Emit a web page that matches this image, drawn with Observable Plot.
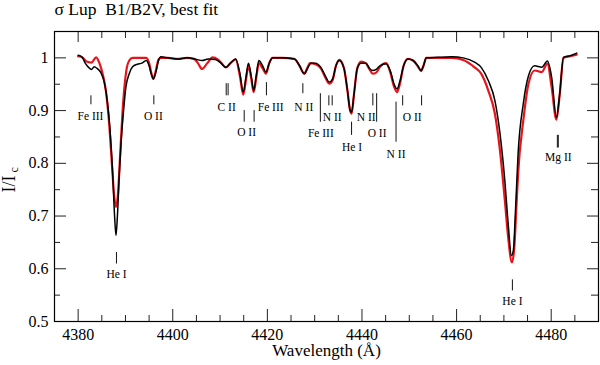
<!DOCTYPE html>
<html><head><meta charset="utf-8">
<script src="https://cdn.jsdelivr.net/npm/d3@7"></script>
<script src="https://cdn.jsdelivr.net/npm/@observablehq/plot@0.6"></script>
<style>html,body{margin:0;padding:0;background:#fff}</style>
</head><body><div id="chart"></div>
<script>
const titleText = "σ Lup\u00a0\u00a0B1/B2V, best fit";
const xLabel = "Wavelength (Å)";

const obsWave = [4380.0,4380.8,4381.5,4382.2,4382.8,4383.4,4384.0,4384.8,4385.6,4386.2,4386.7,4387.3,4387.7,4388.0,4388.3,4388.7,4389.1,4389.6,4390.1,4390.8,4391.5,4392.5,4393.5,4394.4,4395.0,4395.5,4395.9,4396.4,4397.0,4397.5,4399,4401,4403,4405,4406.2,4407.5,4409,4410.2,4411.2,4412.2,4413.3,4414.2,4414.9,4415.5,4416.0,4416.6,4417.1,4417.7,4418.2,4419.0,4419.7,4420.4,4421.1,4423,4425.7,4426.8,4427.8,4428.5,4429.2,4430.2,4431.3,4432.3,4433.1,4433.8,4434.5,4435.2,4436.2,4436.9,4437.5,4437.8,4438.3,4439.0,4439.8,4440.8,4441.6,4442.3,4443.0,4443.8,4445.1,4446.0,4446.8,4447.4,4448.0,4448.8,4449.7,4450.8,4451.8,4452.5,4453.0,4453.6,4456,4459,4461.4,4463.8,4465.2,4466.7,4468.1,4469.1,4470.2,4470.9,4471.6,4472.0,4472.5,4473.0,4474.1,4475.2,4476.5,4478.0,4479.2,4480.1,4481.1,4481.8,4482.6,4484,4485.4];
const obsFlux = [1.005,1.002,0.99,0.982,0.978,0.983,0.98,0.972,0.951,0.915,0.868,0.78,0.70,0.663,0.70,0.78,0.843,0.90,0.945,0.97,0.983,0.988,0.99,0.995,0.985,0.968,0.96,0.972,0.995,1.002,1.0,0.998,1.0,0.997,0.995,0.998,0.997,0.99,0.982,0.99,0.998,0.97,0.935,0.965,0.99,0.965,0.938,0.97,0.995,0.985,0.973,0.99,1.0,1.0,0.998,0.985,0.97,0.98,0.99,0.99,0.982,0.965,0.954,0.96,0.985,0.995,0.98,0.94,0.9,0.897,0.93,0.98,0.99,0.99,0.98,0.976,0.978,0.985,0.989,0.975,0.95,0.941,0.955,0.985,0.998,0.995,0.985,0.976,0.985,1.0,1.001,1.002,1.0,0.992,0.982,0.957,0.919,0.862,0.767,0.686,0.625,0.635,0.72,0.818,0.913,0.966,0.985,0.982,0.994,0.963,0.887,0.932,1.001,1.004,1.009];

const fitWave = [4380.0,4381.0,4381.8,4382.8,4383.8,4384.5,4385.3,4385.9,4386.6,4387.2,4387.6,4388.0,4388.4,4388.9,4389.4,4389.9,4390.3,4390.8,4391.5,4394.4,4395.0,4395.5,4395.9,4396.4,4397.0,4397.5,4399,4401,4403,4404.5,4405.3,4406.2,4407.3,4408.4,4409.5,4410.3,4411.2,4412.2,4413.3,4414.2,4414.9,4415.5,4416.0,4416.6,4417.1,4417.7,4418.2,4419.0,4419.7,4420.4,4421.1,4423,4425.7,4426.8,4427.8,4428.5,4429.0,4430.2,4431.3,4432.3,4433.1,4433.8,4434.5,4435.2,4436.2,4436.9,4437.5,4437.8,4438.3,4439.0,4439.8,4440.8,4441.6,4442.3,4443.0,4443.8,4445.1,4446.0,4446.8,4447.4,4448.0,4448.8,4449.7,4450.8,4451.8,4452.5,4453.0,4453.6,4456,4459,4461.4,4463.8,4465.2,4466.7,4468.1,4469.1,4470.2,4470.9,4471.7,4472.2,4472.6,4473.0,4474.1,4475.2,4476.5,4478.0,4479.2,4480.1,4481.1,4481.8,4482.6,4484,4485.4];
const fitFlux = [1.003,1.0,0.993,0.991,1.001,0.99,0.965,0.935,0.87,0.79,0.74,0.717,0.74,0.82,0.9,0.955,0.982,0.995,1.0,1.0,0.99,0.97,0.96,0.975,0.997,1.0,1.0,0.998,1.0,0.998,0.99,0.979,0.99,1.001,0.997,0.99,0.982,0.99,0.997,0.965,0.93,0.96,0.985,0.96,0.935,0.965,0.99,0.98,0.97,0.99,1.0,1.0,0.998,0.985,0.97,0.982,0.99,0.988,0.98,0.962,0.951,0.958,0.985,0.996,0.98,0.94,0.9,0.894,0.93,0.98,0.993,0.99,0.978,0.97,0.972,0.983,0.99,0.972,0.945,0.935,0.95,0.985,0.998,0.995,0.984,0.975,0.985,1.0,1.0,1.0,0.996,0.982,0.97,0.938,0.894,0.83,0.73,0.66,0.612,0.64,0.71,0.78,0.881,0.951,0.976,0.973,0.989,0.944,0.883,0.93,1.0,1.003,1.006];

const xMajorTicks = [4380,4400,4420,4440,4460,4480];
const xMinorTicks = [4385,4390,4395,4405,4410,4415,4425,4430,4435,4445,4450,4455,4465,4470,4475,4485];
const yMajorTicks = [0.5,0.6,0.7,0.8,0.9,1.0];
const yMinorTicks = [0.55,0.65,0.75,0.85,0.95];

const idText  = ["Fe III","O II","C II","O II","Fe III","N II","Fe III","N II","He I","N II","O II","N II","O II","Mg II","He I","He I"];
const idWave  = [4382.6,4395.9,4411.4,4415.6,4420.7,4427.7,4431.3,4433.7,4437.9,4440.9,4443.2,4447.2,4450.6,4481.5,4388.1,4471.8];
const idLevel = [0.8896,0.8896,0.9066,0.8592,0.9066,0.9066,0.8560,0.8877,0.8307,0.8877,0.8560,0.8180,0.8877,0.8118,0.5903,0.5385];

const markWave   = [4382.7,4396.0,4411.3,4411.7,4415.1,4417.2,4419.8,4427.5,4431.2,4433.0,4433.7,4437.8,4442.3,4443.1,4447.2,4448.6,4452.6,4481.3,4481.5,4388.1,4471.8];
const markTop    = [0.928,0.928,0.951,0.951,0.900,0.900,0.953,0.951,0.932,0.928,0.928,0.878,0.932,0.932,0.916,0.928,0.928,0.853,0.853,0.631,0.579];
const markBottom = [0.911,0.911,0.928,0.928,0.878,0.878,0.928,0.932,0.878,0.909,0.909,0.853,0.909,0.878,0.840,0.909,0.909,0.829,0.829,0.609,0.558];

const obs = obsWave.map((w,i)=>({w, f: obsFlux[i]}));
const fit = fitWave.map((w,i)=>({w, f: fitFlux[i]}));
const ids = idText.map((t,i)=>({t, w: idWave[i], v: idLevel[i]}));
const idMarks = markWave.map((w,i)=>({w, y1: markTop[i], y2: markBottom[i]}));

const W = 600, H = 365, mL = 54, mR = 2, mT = 31, mB = 44;
const fh = H - mT - mB, fw = W - mL - mR;
const serif = "'Liberation Serif', 'Times New Roman', serif";

const chart = Plot.plot({
  width: W, height: H,
  marginLeft: mL, marginRight: mR, marginTop: mT, marginBottom: mB,
  x: {domain: [4375, 4490]},
  y: {domain: [0.5, 1.05]},
  style: {fontFamily: serif, background: "#fff", color: "#000"},
  marks: [
    Plot.line(fit, {x: "w", y: "f", stroke: "#e8141b", strokeWidth: 2.2, curve: "monotone-x"}),
    Plot.line(obs, {x: "w", y: "f", stroke: "#000", strokeWidth: 1.5, curve: "monotone-x"}),
    Plot.ruleX(idMarks, {x: "w", y1: "y1", y2: "y2", stroke: "#111", strokeWidth: 1}),
    Plot.text(ids, {x: "w", y: "v", text: "t", fontSize: 11.5, fontFamily: serif, fill: "#000", lineAnchor: "middle"}),
    Plot.ruleX(xMajorTicks, {insetTop: fh - 12, stroke: "#222"}),
    Plot.ruleX(xMinorTicks, {insetTop: fh - 6, stroke: "#222"}),
    Plot.ruleX(xMajorTicks, {insetBottom: fh - 11, stroke: "#222"}),
    Plot.ruleX(xMinorTicks, {insetBottom: fh - 7, stroke: "#222"}),
    Plot.ruleY(yMajorTicks, {insetRight: fw - 12, stroke: "#222"}),
    Plot.ruleY(yMinorTicks, {insetRight: fw - 6, stroke: "#222"}),
    Plot.ruleY(yMajorTicks, {insetLeft: fw - 11, stroke: "#222"}),
    Plot.ruleY(yMinorTicks, {insetLeft: fw - 7, stroke: "#222"}),
    Plot.axisX({ticks: xMajorTicks, anchor: "bottom", tickSize: 0, tickPadding: 7, fontSize: 16, fontFamily: serif, tickFormat: d => String(d), label: null}),
    Plot.axisY({ticks: yMajorTicks, anchor: "left", tickSize: 0, tickPadding: 6, fontSize: 16, fontFamily: serif, tickFormat: d => d === 1 ? "1" : d.toFixed(1), label: null}),
    Plot.frame({stroke: "#000", strokeWidth: 1.2}),
    Plot.text([titleText], {frameAnchor: "top-left", dy: -22.4, textAnchor: "start", lineAnchor: "middle", fontSize: 17.5, fontFamily: serif}),
    Plot.text([xLabel], {frameAnchor: "bottom", dy: 29.5, lineAnchor: "middle", fontSize: 17, fontFamily: serif}),
    Plot.text(["I/I"], {frameAnchor: "left", dx: -45, dy: 16, rotate: -90, textAnchor: "start", lineAnchor: "middle", fontSize: 18, fontFamily: serif}),
    Plot.text(["c"], {frameAnchor: "left", dx: -40, dy: -4, rotate: -90, textAnchor: "start", lineAnchor: "middle", fontSize: 12, fontFamily: serif})
  ]
});
document.getElementById("chart").appendChild(chart);
</script>
</body></html>
